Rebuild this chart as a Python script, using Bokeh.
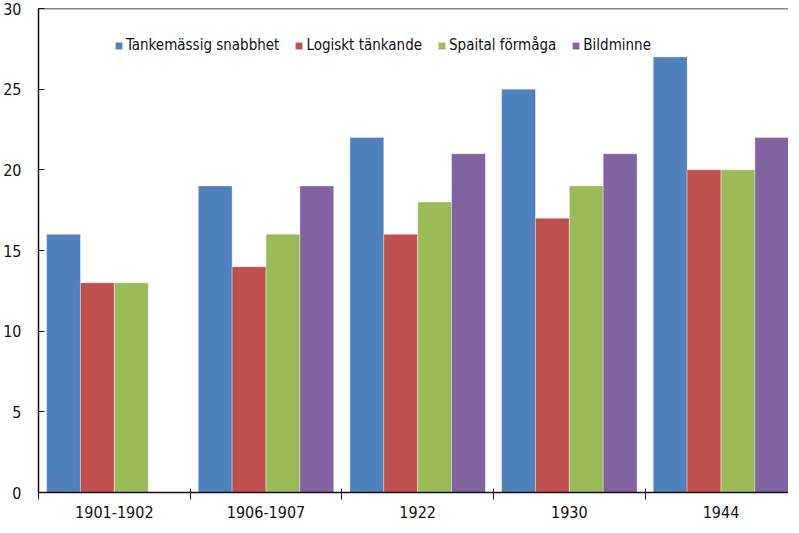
import math
from bokeh.plotting import figure
from bokeh.models import (ColumnDataSource, Range1d, FixedTicker, Legend, LegendItem, Span)
from bokeh.transform import dodge
from bokeh.embed import file_html
from bokeh.resources import INLINE

# ---- data ----
categories = ["1901-1902", "1906-1907", "1922", "1930", "1944"]
tankemassig = [16, 19, 22, 25, 27]
logiskt = [13, 14, 16, 17, 20]
spatial = [13, 16, 18, 19, 20]
bildminne = [float("nan"), 19, 21, 21, 22]
series_names = ["Tankemässig snabbhet", "Logiskt tänkande", "Spaital förmåga", "Bildminne"]
colors = ["#4F81BD", "#C0504D", "#9BBB59", "#8064A2"]
y_ticks = [0, 5, 10, 15, 20, 25, 30]

FONT = "Liberation Sans Narrow, DejaVu Sans Condensed, sans-serif"

centers = [i + 0.5 for i in range(len(categories))]
source = ColumnDataSource(data=dict(
    x=centers, a=tankemassig, b=logiskt, c=spatial, d=bildminne,
))

p = figure(frame_width=750, frame_height=484, output_backend="svg", toolbar_location=None,
           x_range=Range1d(0, 4.945), y_range=Range1d(0, 30),
           min_border_left=33, min_border_right=0, min_border_top=8, min_border_bottom=20)
p.background_fill_color = "white"
p.border_fill_color = "white"
p.outline_line_color = None
p.xgrid.grid_line_color = None
p.ygrid.grid_line_color = None

bw = 0.2233
offsets = [-0.335, -0.112, 0.112, 0.335]
cols = ["a", "b", "c", "d"]
renderers = []
for col, off, color in zip(cols, offsets, colors):
    r = p.vbar(x=dodge("x", off, range=p.x_range), top=col, width=bw, source=source,
               fill_color=color, line_color="white", line_alpha=0.35, line_width=1)
    renderers.append(r)

# top border line
p.add_layout(Span(location=30, dimension="width", line_color="#111111", line_width=1.5))

# x axis
xa = p.xaxis[0]
xa.ticker = FixedTicker(ticks=centers, minor_ticks=list(range(len(categories) + 1)))
xa.major_label_overrides = {c: lab for c, lab in zip(centers, categories)}
xa.major_tick_in = 0
xa.major_tick_out = 0
xa.minor_tick_in = 4
xa.minor_tick_out = 7
xa.minor_tick_line_color = "#111111"
xa.axis_line_color = "#111111"
xa.axis_line_width = 1.5
xa.major_label_standoff = 6
xa.major_label_text_font = FONT
xa.major_label_text_font_size = "16px"
xa.major_label_text_color = "#111111"

# y axis
ya = p.yaxis[0]
ya.ticker = FixedTicker(ticks=y_ticks, minor_ticks=[])
ya.major_tick_in = 6
ya.major_tick_out = 0
ya.major_tick_line_color = "#111111"
ya.axis_line_color = "#111111"
ya.axis_line_width = 1.5
ya.major_label_standoff = 17
ya.major_label_text_font = FONT
ya.major_label_text_font_size = "16px"
ya.major_label_text_color = "#111111"

legend = Legend(items=[LegendItem(label=n, renderers=[r]) for n, r in zip(series_names, renderers)],
                orientation="horizontal", location=(76, 437),
                glyph_width=9, glyph_height=9, label_standoff=3, spacing=15,
                padding=0, margin=0, border_line_color=None, background_fill_alpha=0,
                label_text_font=FONT, label_text_font_size="15px", label_text_color="#111111",
                label_height=20)
p.add_layout(legend, "center")

open("out.html", "w").write(file_html(p, INLINE))
